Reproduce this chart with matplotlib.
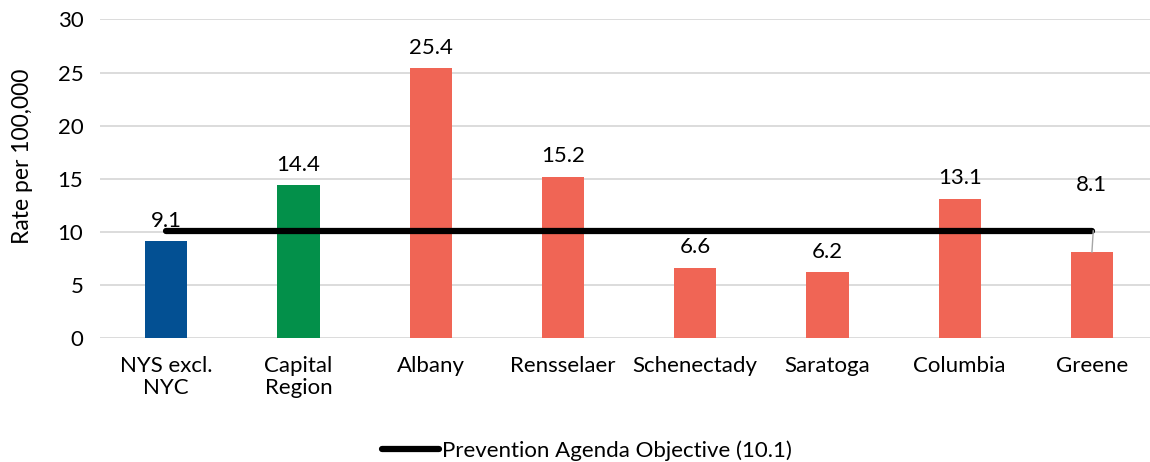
import matplotlib.pyplot as plt
import numpy as np

plt.rcParams['font.family'] = ['Lato', 'DejaVu Sans']

# data
regions = ["NYS excl.\nNYC", "Capital\nRegion", "Albany", "Rensselaer",
           "Schenectady", "Saratoga", "Columbia", "Greene"]
rates = [9.1, 14.4, 25.4, 15.2, 6.6, 6.2, 13.1, 8.1]
colors = ["#035093", "#03904A"] + ["#F06555"] * 6
objective = 10.1

fig = plt.figure(figsize=(11.5, 4.62), dpi=100)
ax = fig.add_axes([0.087, 0.268, 0.92, 0.69])

x = np.arange(len(regions))
ax.bar(x, rates, width=0.32, color=colors, zorder=2)

# objective line across bar centres
ax.plot([x[0], x[-1]], [objective, objective], color="black", lw=4.5,
        solid_capstyle="round", zorder=3, label="Prevention Agenda Objective (10.1)")

# value labels
for i, v in enumerate(rates):
    if i == len(rates) - 1:
        # moved label with leader line
        ax.text(x[i], v + 5.4, f"{v}", ha="center", va="bottom", fontsize=16)
        ax.plot([x[i] + 0.01, x[i]], [objective, v], color="#A6A6A6", lw=1, zorder=4)
    else:
        ax.text(x[i], v + 1.0, f"{v}", ha="center", va="bottom", fontsize=16)

ax.set_xlim(-0.5, len(regions) - 0.5)
ax.set_ylim(0, 30)
ax.set_yticks(range(0, 31, 5))
ax.set_xticks(x)
ax.set_xticklabels(regions, fontsize=16, va="top", linespacing=1.1)
ax.tick_params(axis="y", labelsize=16, length=0, pad=12)
ax.tick_params(axis="x", length=0, pad=13)
ax.set_ylabel("Rate per 100,000", fontsize=16.5)
ax.yaxis.set_label_coords(-0.063, 0.57)
ax.grid(axis="y", color="#D9D9D9", lw=1.3, zorder=0)
for s in ax.spines.values():
    s.set_visible(False)

fig.legend(loc="center", bbox_to_anchor=(0.51, 0.025), frameon=False,
           fontsize=16, handlelength=2.6, handletextpad=0.1)

fig.savefig("out.png")
